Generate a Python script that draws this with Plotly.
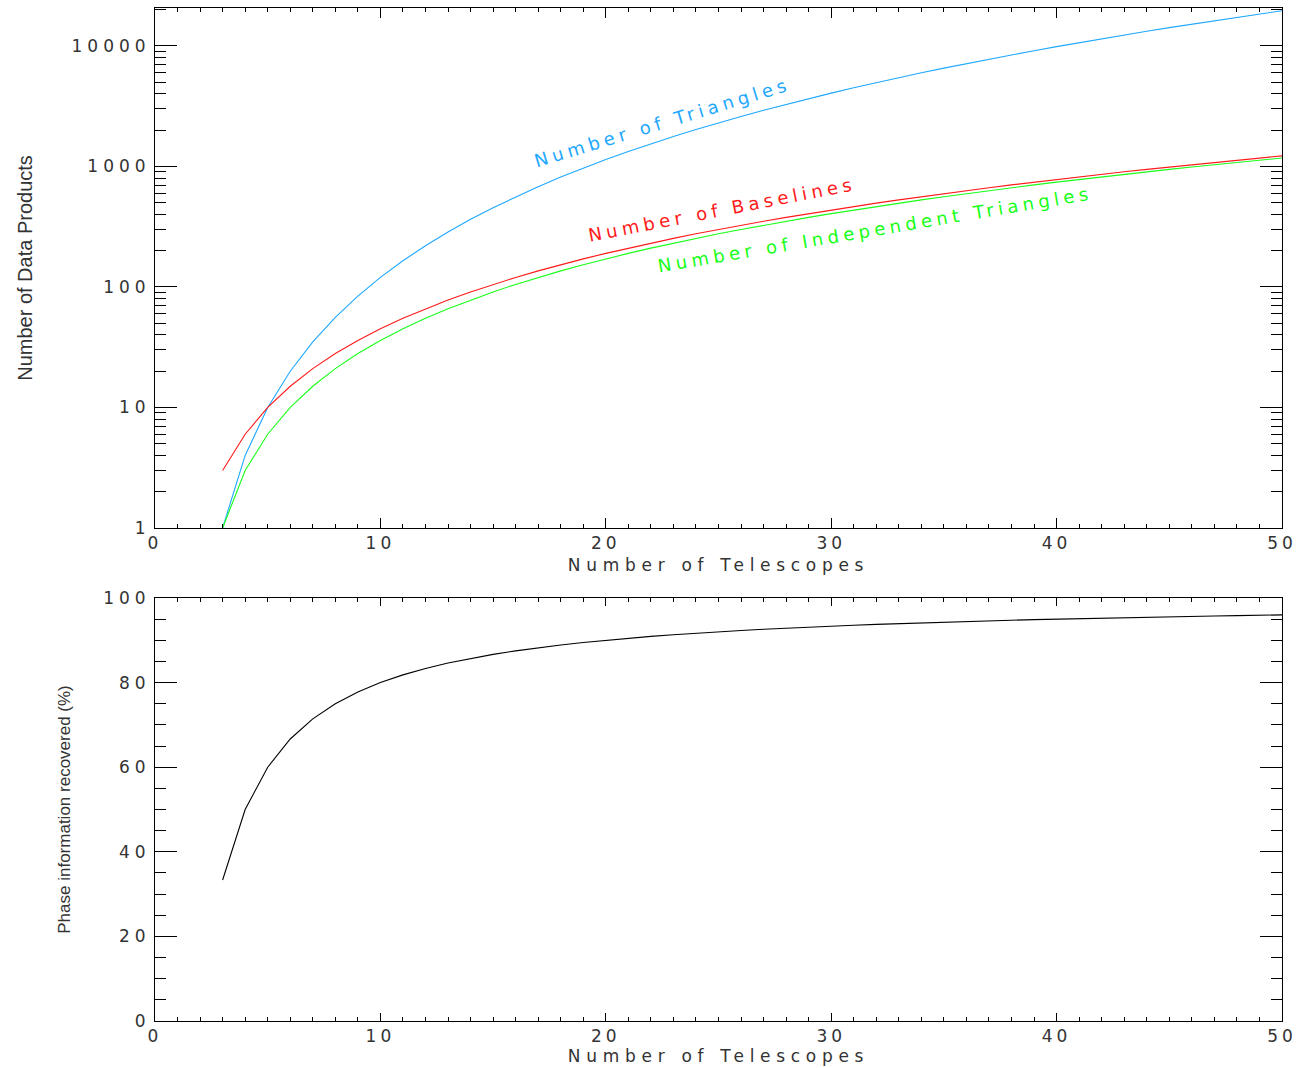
import plotly.graph_objects as go

n_telescopes = list(range(3, 51))
n_baselines = [3, 6, 10, 15, 21, 28, 36, 45, 55, 66, 78, 91, 105, 120, 136, 153, 171, 190,
               210, 231, 253, 276, 300, 325, 351, 378, 406, 435, 465, 496, 528, 561, 595,
               630, 666, 703, 741, 780, 820, 861, 903, 946, 990, 1035, 1081, 1128, 1176, 1225]
n_triangles = [1, 4, 10, 20, 35, 56, 84, 120, 165, 220, 286, 364, 455, 560, 680, 816, 969,
               1140, 1330, 1540, 1771, 2024, 2300, 2600, 2925, 3276, 3654, 4060, 4495, 4960,
               5456, 5984, 6545, 7140, 7770, 8436, 9139, 9880, 10660, 11480, 12341, 13244,
               14190, 15180, 16215, 17296, 18424, 19600]
n_indep = [1, 3, 6, 10, 15, 21, 28, 36, 45, 55, 66, 78, 91, 105, 120, 136, 153, 171, 190,
           210, 231, 253, 276, 300, 325, 351, 378, 406, 435, 465, 496, 528, 561, 595, 630,
           666, 703, 741, 780, 820, 861, 903, 946, 990, 1035, 1081, 1128, 1176]
phase_pct = [33.33, 50.0, 60.0, 66.67, 71.43, 75.0, 77.78, 80.0, 81.82, 83.33, 84.62, 85.71,
             86.67, 87.5, 88.24, 88.89, 89.47, 90.0, 90.48, 90.91, 91.30, 91.67, 92.0, 92.31,
             92.59, 92.86, 93.10, 93.33, 93.55, 93.75, 93.94, 94.12, 94.29, 94.44, 94.59,
             94.74, 94.87, 95.0, 95.12, 95.24, 95.35, 95.45, 95.56, 95.65, 95.74, 95.83,
             95.92, 96.0]

log_ticks = [1, 10, 100, 1000, 10000]
log_tick_text = ["1", "10", "100", "1000", "10000"]
log_minor = [m * d for d in [1, 10, 100, 1000, 10000] for m in range(2, 10)]
x_ticks = [0, 10, 20, 30, 40, 50]
x_tick_text = ["0", "10", "20", "30", "40", "50"]
phase_ticks = [0, 20, 40, 60, 80, 100]
phase_tick_text = ["0", "20", "40", "60", "80", "100"]

BLUE = "#1fa8ff"
RED = "#ff1a1a"
GREEN = "#19ff19"
TXT = "#333333"
FONT = "DejaVu Sans"


def spaced(s, px):
    return '<span style="letter-spacing:%.1fpx">%s</span>' % (px, s)


fig = go.Figure()
fig.add_trace(go.Scatter(x=n_telescopes, y=n_triangles, mode="lines",
                         line=dict(color=BLUE, width=1.1), xaxis="x", yaxis="y"))
fig.add_trace(go.Scatter(x=n_telescopes, y=n_baselines, mode="lines",
                         line=dict(color=RED, width=1.1), xaxis="x", yaxis="y"))
fig.add_trace(go.Scatter(x=n_telescopes, y=n_indep, mode="lines",
                         line=dict(color=GREEN, width=1.1), xaxis="x", yaxis="y"))
fig.add_trace(go.Scatter(x=n_telescopes, y=phase_pct, mode="lines",
                         line=dict(color="black", width=1.1), xaxis="x2", yaxis="y2"))

tickfont = dict(family=FONT, size=17, color=TXT)
common_axis = dict(showline=True, linecolor="black", linewidth=1, mirror="allticks",
                   ticks="inside", tickcolor="black", showgrid=False, zeroline=False,
                   tickfont=tickfont, automargin=False)
xtitle_font = dict(family=FONT, size=17, color=TXT)

fig.update_layout(
    width=1302, height=1068,
    margin=dict(l=155, r=20, t=8, b=47),
    paper_bgcolor="white", plot_bgcolor="white",
    showlegend=False,
    xaxis=dict(domain=[0, 1], range=[0, 50], tickvals=x_ticks,
               ticktext=[spaced(t, 4) for t in x_tick_text], ticklen=10,
               minor=dict(dtick=1, tick0=0, ticklen=4, ticks="inside", tickcolor="black"),
               title=dict(text=spaced("Number of Telescopes", 5.7), font=xtitle_font, standoff=6),
               anchor="y", **common_axis),
    yaxis=dict(domain=[0.4867, 1.0], type="log", range=[0, 4.315],
               tickvals=log_ticks, ticktext=[spaced(t, 5) for t in log_tick_text], ticklen=22,
               minor=dict(tickvals=log_minor, ticklen=11, ticks="inside", tickcolor="black"),
               title=dict(text="Number of Data Products",
                          font=dict(family="Liberation Sans", size=20, color=TXT), standoff=33),
               anchor="x", **common_axis),
    xaxis2=dict(domain=[0, 1], range=[0, 50], tickvals=x_ticks,
                ticktext=[spaced(t, 4) for t in x_tick_text], ticklen=8,
                minor=dict(dtick=1, tick0=0, ticklen=4, ticks="inside", tickcolor="black"),
                title=dict(text=spaced("Number of Telescopes", 5.7), font=xtitle_font, standoff=4),
                anchor="y2", **common_axis),
    yaxis2=dict(domain=[0, 0.4176], range=[0, 100], tickvals=phase_ticks,
                ticktext=[spaced(t, 5) for t in phase_tick_text], ticklen=22,
                minor=dict(dtick=5, tick0=0, ticklen=11, ticks="inside", tickcolor="black"),
                title=dict(text="Phase information recovered (%)",
                           font=dict(family="Liberation Sans", size=17, color=TXT), standoff=28),
                anchor="x2", **common_axis),
)

annotations = [
    dict(text="Number of Triangles", x=22.5, y=3.369, color=BLUE, angle=-17),
    dict(text="Number of Baselines", x=25.15, y=2.639, color=RED, angle=-11),
    dict(text="Number of Independent Triangles", x=31.94, y=2.473, color=GREEN, angle=-9.6),
]
for a in annotations:
    fig.add_annotation(x=a["x"], y=a["y"], xref="x", yref="y", text=spaced(a["text"], 4.5),
                       showarrow=False, textangle=a["angle"],
                       font=dict(family=FONT, size=18, color=a["color"]))

fig.write_html("out.html")
